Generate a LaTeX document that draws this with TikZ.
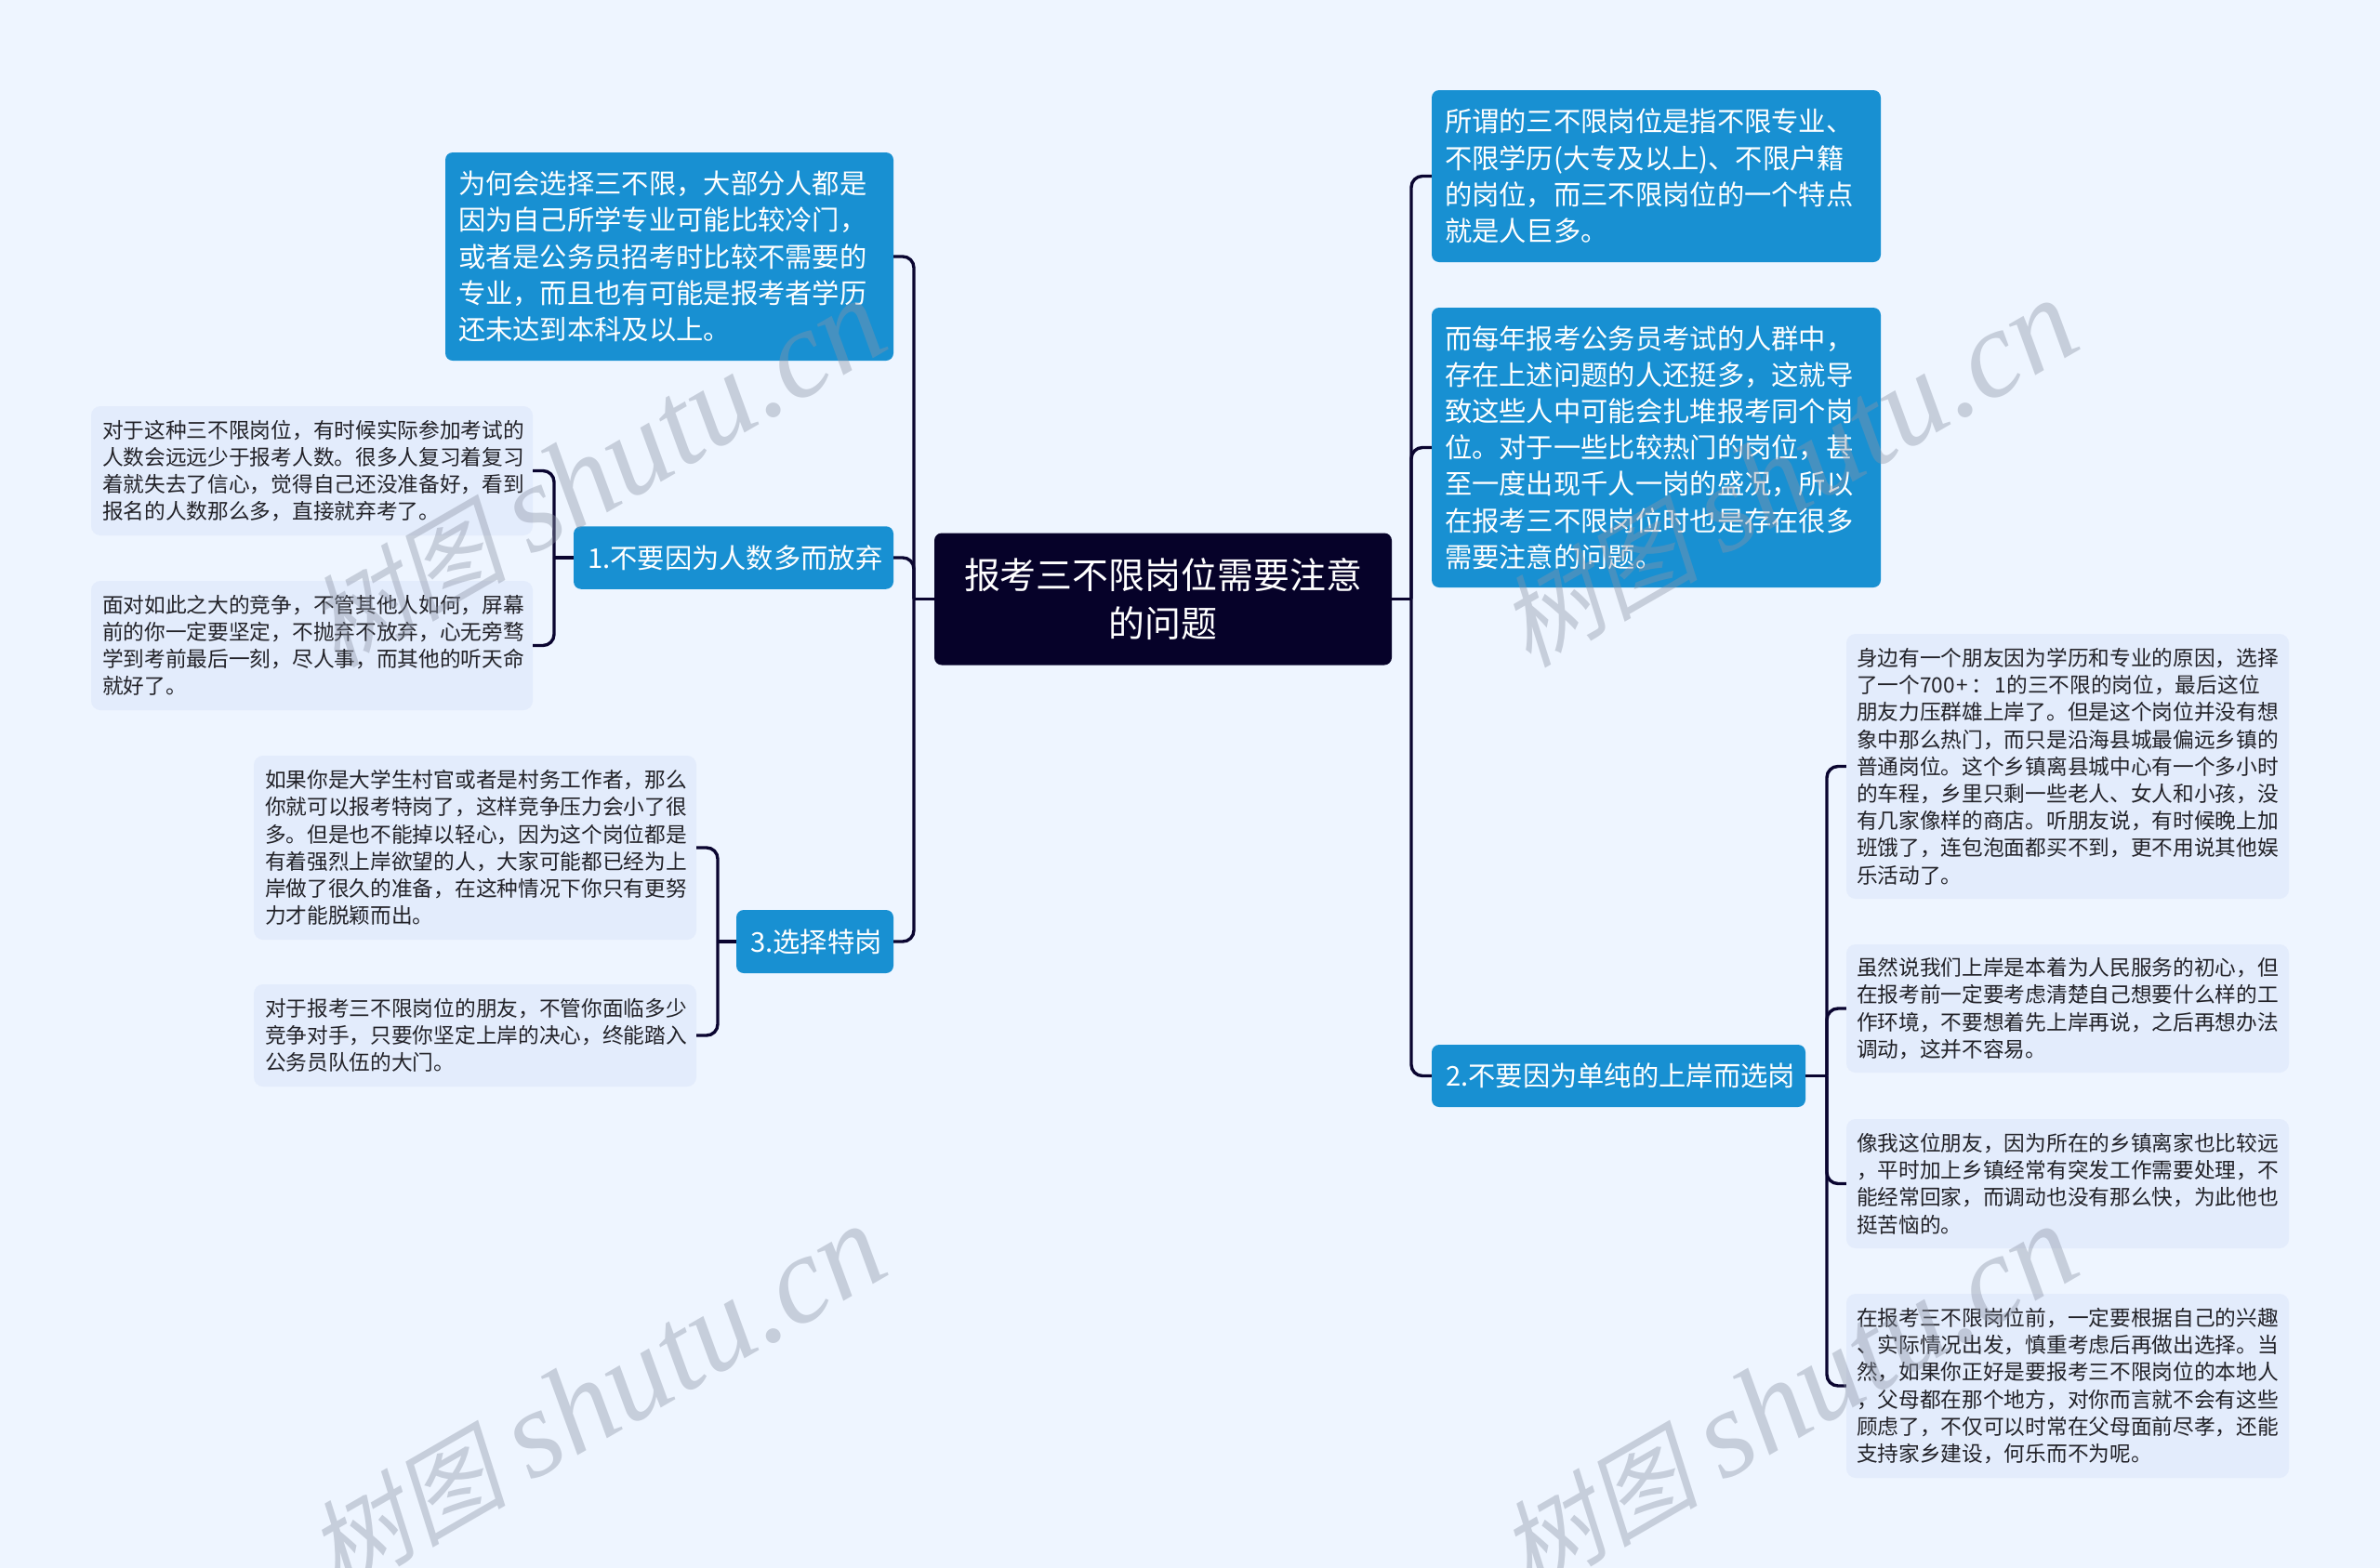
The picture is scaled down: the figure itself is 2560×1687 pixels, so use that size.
\documentclass[tikz,border=0pt]{standalone}
\usepackage{fontspec}
\setmainfont{Noto Sans CJK SC}
\newfontfamily\marklatin{Liberation Serif}
\newfontfamily\markcjk[FakeSlant=0.22]{Noto Sans CJK SC}
\usepackage{tikz}
\definecolor{pagebg}{HTML}{EEF5FF}
\definecolor{rootfill}{HTML}{060229}
\definecolor{branchfill}{HTML}{1890D2}
\definecolor{leaffill}{HTML}{E3ECFC}
\definecolor{linkcolor}{HTML}{0A0530}
\definecolor{leaftext}{HTML}{222228}
\definecolor{markcolor}{HTML}{8C94A5}
\newcommand{\markword}{{\markcjk\fontsize{108}{108}\selectfont 树图}\hspace{26pt}{\marklatin\itshape\fontsize{134}{134}\selectfont shutu.cn}}

\begin{document}
\begin{tikzpicture}[x=1pt,y=-1pt,
		boxsize/.style n args={3}{minimum width=#1pt,minimum height=#2pt,text width=#1pt-2*#3pt,inner xsep=#3pt,inner ysep=0pt},
		rootnode/.style={fill=rootfill,text=white,rounded corners=8pt,align=center,font=\fontsize{38.9}{52}\selectfont},
		branchnode/.style={fill=branchfill,text=white,rounded corners=8pt,align=left,font=\fontsize{29.3}{39.2}\selectfont},
		leafnode/.style={fill=leaffill,text=leaftext,rounded corners=10pt,align=left,font=\fontsize{22.7}{29.2}\selectfont},
		link/.style={draw=linkcolor,line width=3.4pt,rounded corners=12pt},
		markstyle/.style={text=markcolor,text opacity=0.4,rotate=30}]
		\fill[pagebg] (0,0) rectangle (2560,1687);
		\useasboundingbox (0,0) rectangle (2560,1687);
		\node[rootnode,boxsize={492}{142}{15}] (root) at (1251,644.5) {报考三不限岗位需要注意\\的问题};
		\node[branchnode,boxsize={482}{224}{14}] (why) at (720,276) {为何会选择三不限，大部分人都是\\因为自己所学专业可能比较冷门，\\或者是公务员招考时比较不需要的\\专业，而且也有可能是报考者学历\\还未达到本科及以上。};
		\node[branchnode,boxsize={344}{67.5}{15}] (first) at (789,600) {1.不要因为人数多而放弃};
		\node[branchnode,boxsize={169}{68}{15}] (third) at (876.5,1013) {3.选择特岗};
		\node[branchnode,boxsize={483}{185}{14}] (meaning) at (1781.5,189.5) {所谓的三不限岗位是指不限专业、\\不限学历(大专及以上)、不限户籍\\的岗位，而三不限岗位的一个特点\\就是人巨多。};
		\node[branchnode,boxsize={483}{301}{14}] (crowd) at (1781.5,481.5) {而每年报考公务员考试的人群中，\\存在上述问题的人还挺多，这就导\\致这些人中可能会扎堆报考同个岗\\位。对于一些比较热门的岗位，甚\\至一度出现千人一岗的盛况，所以\\在报考三不限岗位时也是存在很多\\需要注意的问题。};
		\node[branchnode,boxsize={402}{67}{15}] (second) at (1741,1157.5) {2.不要因为单纯的上岸而选岗};
		\node[leafnode,boxsize={475}{139}{12}] (firsta) at (335.5,506.5) {对于这种三不限岗位，有时候实际参加考试的\\人数会远远少于报考人数。很多人复习着复习\\着就失去了信心，觉得自己还没准备好，看到\\报名的人数那么多，直接就弃考了。};
		\node[leafnode,boxsize={475}{139}{12}] (firstb) at (335.5,694.5) {面对如此之大的竞争，不管其他人如何，屏幕\\前的你一定要坚定，不抛弃不放弃，心无旁骛\\学到考前最后一刻，尽人事，而其他的听天命\\就好了。};
		\node[leafnode,boxsize={476}{198}{12}] (thirda) at (511,912) {如果你是大学生村官或者是村务工作者，那么\\你就可以报考特岗了，这样竞争压力会小了很\\多。但是也不能掉以轻心，因为这个岗位都是\\有着强烈上岸欲望的人，大家可能都已经为上\\岸做了很久的准备，在这种情况下你只有更努\\力才能脱颖而出。};
		\node[leafnode,boxsize={476}{110}{12}] (thirdb) at (511,1114) {对于报考三不限岗位的朋友，不管你面临多少\\竞争对手，只要你坚定上岸的决心，终能踏入\\公务员队伍的大门。};
		\node[leafnode,boxsize={476}{285}{11}] (seconda) at (2224,824.5) {身边有一个朋友因为学历和专业的原因，选择\\了一个700\hspace{1.5pt}+\hspace{3pt}：\hspace{3pt}1的三不限的岗位，最后这位\\朋友力压群雄上岸了。但是这个岗位并没有想\\象中那么热门，而只是沿海县城最偏远乡镇的\\普通岗位。这个乡镇离县城中心有一个多小时\\的车程，乡里只剩一些老人、女人和小孩，没\\有几家像样的商店。听朋友说，有时候晚上加\\班饿了，连包泡面都买不到，更不用说其他娱\\乐活动了。};
		\node[leafnode,boxsize={476}{138}{11}] (secondb) at (2224,1085) {虽然说我们上岸是本着为人民服务的初心，但\\在报考前一定要考虑清楚自己想要什么样的工\\作环境，不要想着先上岸再说，之后再想办法\\调动，这并不容易。};
		\node[leafnode,boxsize={476}{139}{11}] (secondc) at (2224,1273.5) {像我这位朋友，因为所在的乡镇离家也比较远\\，平时加上乡镇经常有突发工作需要处理，不\\能经常回家，而调动也没有那么快，为此他也\\挺苦恼的。};
		\node[leafnode,boxsize={476}{198}{11}] (secondd) at (2224,1491) {在报考三不限岗位前，一定要根据自己的兴趣\\、实际情况出发，慎重考虑后再做出选择。当\\然，如果你正好是要报考三不限岗位的本地人\\，父母都在那个地方，对你而言就不会有这些\\顾虑了，不仅可以时常在父母面前尽孝，还能\\支持家乡建设，何乐而不为呢。};
		\coordinate (spineleft) at (983,644.5);
		\coordinate (spineright) at (1518,644.5);
		\coordinate (firstjoin) at (596,600);
		\coordinate (thirdjoin) at (772,1013);
		\coordinate (secondjoin) at (1965,1157.5);
		\draw[link] (root.west) -- (spineleft);
		\draw[link] (root.east) -- (spineright);
		\draw[link] (spineleft) |- (why.east);
		\draw[link] (spineleft) |- (first.east);
		\draw[link] (spineleft) |- (third.east);
		\draw[link] (spineright) |- (meaning.west);
		\draw[link] (spineright) |- (crowd.west);
		\draw[link] (spineright) |- (second.west);
		\draw[link] (first.west) -- (firstjoin);
		\draw[link] (firstjoin) |- (firsta.east);
		\draw[link] (firstjoin) |- (firstb.east);
		\draw[link] (third.west) -- (thirdjoin);
		\draw[link] (thirdjoin) |- (thirda.east);
		\draw[link] (thirdjoin) |- (thirdb.east);
		\draw[link] (second.east) -- (secondjoin);
		\draw[link] (secondjoin) |- (seconda.west);
		\draw[link] (secondjoin) |- (secondb.west);
		\draw[link] (secondjoin) |- (secondc.west);
		\draw[link] (secondjoin) |- (secondd.west);
		\node[markstyle] (markone) at (641,510) {\markword};
		\node[markstyle] (marktwo) at (1923,510) {\markword};
		\node[markstyle] (markthree) at (641,1506) {\markword};
		\node[markstyle] (markfour) at (1923,1506) {\markword};
		\end{tikzpicture}
\end{document}
